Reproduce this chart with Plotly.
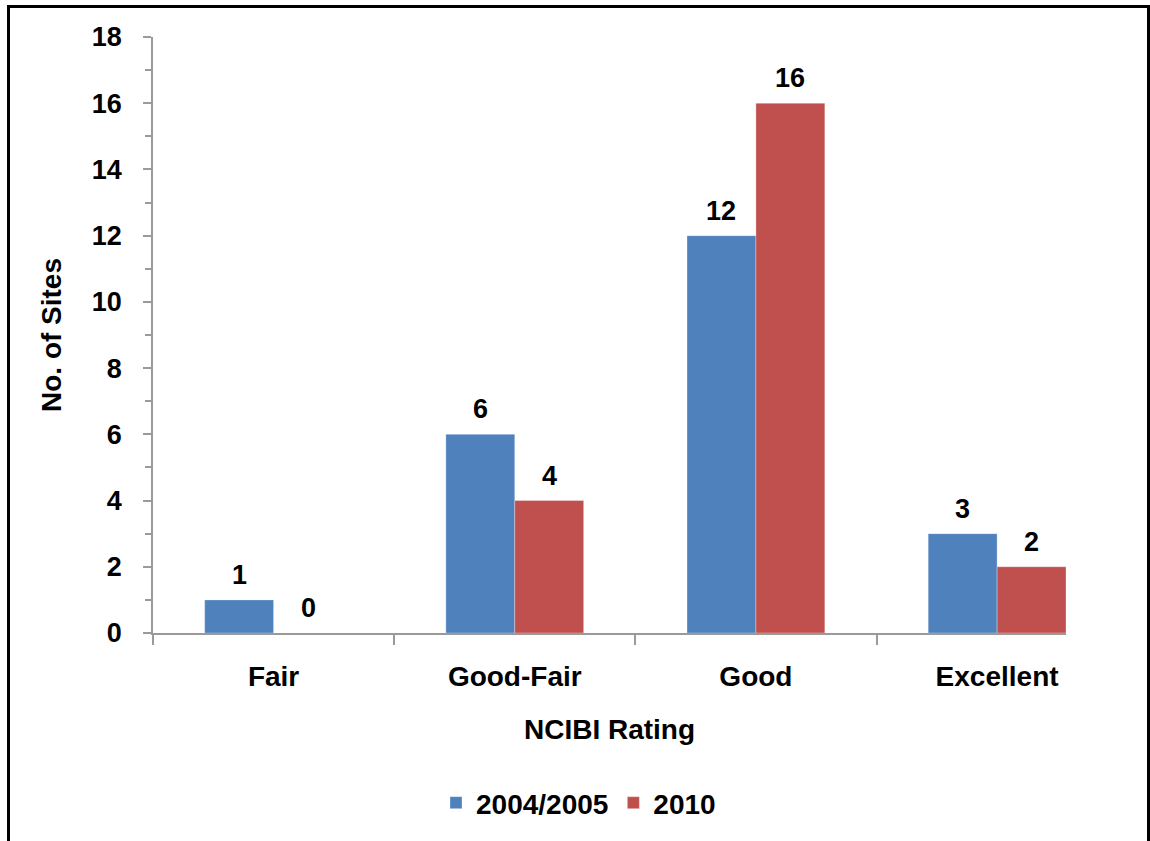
import plotly.graph_objects as go

# NCIBI ratings of the monitoring sites, two survey periods
categories = ["Fair", "Good-Fair", "Good", "Excellent"]
series_names = ["2004/2005", "2010"]
sites_2004_2005 = [1, 6, 12, 3]
sites_2010 = [0, 4, 16, 2]
series_values = [sites_2004_2005, sites_2010]
series_colors = ["#4F81BD", "#C0504D"]

# page geometry (pixels)
W, H = 1150, 841
PLOT_L, PLOT_R, PLOT_T, PLOT_B = 153, 1066, 37, 633
BARGAP = 1.5 / 3.5                 # gap equal to 150% of one bar
BAR_W = (1 - BARGAP) / 2           # width of one bar in category units

FONT = "Liberation Sans, Arial, sans-serif"
FS = 28
AXIS_GREY = "#9A9A9A"


def px_x(p):
    return (p - PLOT_L) / (PLOT_R - PLOT_L)


def px_y(p):
    return (PLOT_B - p) / (PLOT_B - PLOT_T)


fig = go.Figure()
for name, vals, col in zip(series_names, series_values, series_colors):
    fig.add_bar(x=categories, y=vals, name=f"<b>{name}</b>",
                marker=dict(color=col, line=dict(width=0.6, color="rgba(255,255,255,0.5)")))

# value labels above each bar
annotations = []
for j, vals in enumerate(series_values):
    for i, v in enumerate(vals):
        annotations.append(dict(
            x=i + (j - 0.5) * BAR_W, y=v, xref="x", yref="y",
            text=f"<b>{v}</b>", showarrow=False, yanchor="bottom",
            yshift=8, font=dict(family=FONT, size=FS - 1, color="black")))

# outer frame: left, top and right edges
shapes = [
    dict(type="line", xref="paper", yref="paper",
         x0=px_x(8.5), x1=px_x(8.5), y0=px_y(6.5), y1=px_y(H + 5),
         line=dict(color="black", width=3)),
    dict(type="line", xref="paper", yref="paper",
         x0=px_x(7), x1=px_x(1150), y0=px_y(6.5), y1=px_y(6.5),
         line=dict(color="black", width=3)),
    dict(type="line", xref="paper", yref="paper",
         x0=px_x(1148.5), x1=px_x(1148.5), y0=px_y(6.5), y1=px_y(H + 5),
         line=dict(color="black", width=3)),
]

fig.update_layout(
    width=W, height=H,
    margin=dict(l=PLOT_L, r=W - PLOT_R, t=PLOT_T, b=H - PLOT_B, autoexpand=False),
    paper_bgcolor="white", plot_bgcolor="white",
    barmode="group", bargap=BARGAP, bargroupgap=0,
    font=dict(family=FONT, size=FS, color="black"),
    showlegend=True,
    legend=dict(orientation="h", x=px_x(436), y=px_y(778), xanchor="left", yanchor="top",
                font=dict(family=FONT, size=FS, color="black"),
                itemwidth=30, tracegroupgap=0),
    annotations=annotations,
    shapes=shapes,
)

fig.update_xaxes(
    range=[-0.5, len(categories) - 1 + BAR_W],
    tickson="boundaries", ticks="outside", ticklen=10, tickwidth=1.5, tickcolor=AXIS_GREY,
    showline=True, linecolor=AXIS_GREY, linewidth=1.5,
    showgrid=False, zeroline=False,
    tickfont=dict(family=FONT, size=FS, color="black"),
    ticklabelstandoff=18,
    title=dict(text="<b>NCIBI Rating</b>", font=dict(family=FONT, size=FS, color="black"), standoff=28),
    tickprefix="<b>", ticksuffix="</b>",
)

fig.update_yaxes(
    range=[0, 18], dtick=2, tick0=0,
    ticks="outside", ticklen=8, tickwidth=1.5, tickcolor=AXIS_GREY,
    minor=dict(dtick=1, ticks="outside", ticklen=6, tickwidth=1.5, tickcolor=AXIS_GREY),
    showline=True, linecolor=AXIS_GREY, linewidth=1.5,
    showgrid=False, zeroline=False,
    tickfont=dict(family=FONT, size=FS - 1, color="black"),
    ticklabelstandoff=16,
    tickprefix="<b>", ticksuffix="</b>",
    title=dict(text="<b>No. of Sites</b>", font=dict(family=FONT, size=FS, color="black"), standoff=22),
)

fig.write_html("out.html")
